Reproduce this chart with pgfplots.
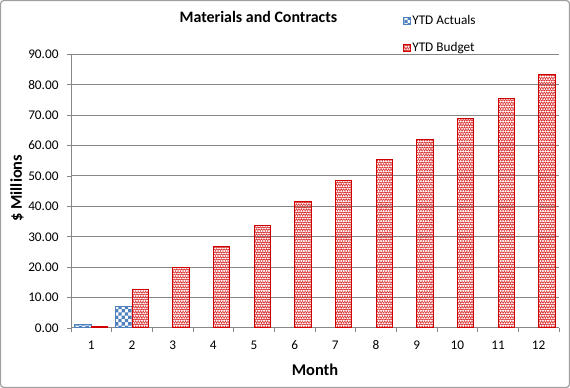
\documentclass[border=0pt]{standalone}
\usepackage{fontspec}
\setmainfont{Carlito}
\usepackage{pgfplots}
\pgfplotsset{compat=1.18}
\usetikzlibrary{patterns,calc}
\definecolor{gridgray}{HTML}{878787}
\definecolor{actblue}{HTML}{4F81BD}
\definecolor{budred}{HTML}{D00000}
\pgfdeclarepatternformonly{mychecker}{\pgfqpoint{-0.1pt}{-0.1pt}}{\pgfqpoint{6.6pt}{6.6pt}}{\pgfqpoint{6.6pt}{6.6pt}}{%
  \pgfpathrectangle{\pgfqpoint{0pt}{0pt}}{\pgfqpoint{3.3pt}{3.3pt}}%
  \pgfpathrectangle{\pgfqpoint{3.3pt}{3.3pt}}{\pgfqpoint{3.3pt}{3.3pt}}%
  \pgfusepath{fill}}
\pgfdeclarepatternformonly{weave}{\pgfqpoint{-0.5pt}{-0.5pt}}{\pgfqpoint{5.5pt}{5.5pt}}{\pgfqpoint{5pt}{5pt}}{%
  \pgfsetlinewidth{0.75pt}%
  \pgfpathmoveto{\pgfqpoint{0pt}{0.5pt}}\pgfpathlineto{\pgfqpoint{1.25pt}{1.8pt}}\pgfpathlineto{\pgfqpoint{2.5pt}{0.5pt}}\pgfpathlineto{\pgfqpoint{3.75pt}{1.8pt}}\pgfpathlineto{\pgfqpoint{5pt}{0.5pt}}%
  \pgfpathmoveto{\pgfqpoint{0pt}{4.5pt}}\pgfpathlineto{\pgfqpoint{1.25pt}{3.2pt}}\pgfpathlineto{\pgfqpoint{2.5pt}{4.5pt}}\pgfpathlineto{\pgfqpoint{3.75pt}{3.2pt}}\pgfpathlineto{\pgfqpoint{5pt}{4.5pt}}%
  \pgfusepath{stroke}}
\begin{document}
\begin{tikzpicture}
\begin{axis}[
  name=ax,
  scale only axis,
  width=488bp, height=273.7bp,
  xmin=0.5, xmax=12.5, ymin=0, ymax=90,
  ybar=0pt, bar width=16.5bp,
  axis x line*=bottom, axis y line*=left,
  axis line style={gridgray, line width=1pt},
  xtick={1,...,12},
  minor xtick={0.5,1.5,...,12.5},
  major x tick style={draw=none},
  minor x tick style={gridgray, line width=0.8pt},
  ytick={0,10,...,90},
  y tick style={gridgray, line width=0.8pt},
  tick align=outside,
  major tick length=4bp, minor tick length=4bp,
  ymajorgrids,
  major grid style={gridgray, line width=1pt},
  tick label style={font=\fontsize{13.3}{15}\selectfont},
  /pgf/number format/assume math mode=true,
  yticklabel style={/pgf/number format/fixed, /pgf/number format/fixed zerofill, /pgf/number format/precision=2, xshift=-5bp},
  xticklabel style={yshift=-5bp},
  xlabel={Month},
  ylabel={\$ Millions},
  every axis x label/.style={at={(axis description cs:0.5,-0.1535)}, anchor=center, font=\fontsize{16.5}{18}\selectfont\bfseries},
  every axis y label/.style={at={(axis description cs:-0.1107,0.511)}, rotate=90, anchor=center, font=\fontsize{16.5}{18}\selectfont\bfseries},
  legend image code/.code={\draw[#1, line width=0.8pt] (0bp,-3.5bp) rectangle (7bp,3.5bp);},
  legend style={draw=none, fill=none, at={(axis description cs:0.68,1.147)}, anchor=north west,
    font=\fontsize{13.3}{15}\selectfont, row sep=13bp, inner sep=0pt,
    nodes={inner sep=1.5bp}},
  legend cell align=left,
]
\addplot[draw=actblue, line width=1pt, pattern=mychecker, pattern color=actblue]
  coordinates {(1,1.2) (2,7.0)};
\addplot[draw=budred, line width=1pt, pattern=weave, pattern color=budred!80]
  coordinates {(1,0.4) (2,12.7) (3,19.9) (4,26.8) (5,33.8) (6,41.6) (7,48.6) (8,55.5) (9,62.1) (10,68.8) (11,75.3) (12,83.4)};
\legend{YTD Actuals, YTD Budget}
\end{axis}
\node[font=\fontsize{16}{18}\selectfont\bfseries, anchor=center] at ($(ax.south west)!0.384!(ax.south east) + (0,273.7bp*1.136)$) {Materials and Contracts};
\draw[gridgray!80, line width=1.2pt, rounded corners=3bp] ([shift={(-70.4bp,-59.4bp)}]ax.south west) rectangle ([shift={(10.4bp,53.7bp)}]ax.north east);
\end{tikzpicture}
\end{document}
